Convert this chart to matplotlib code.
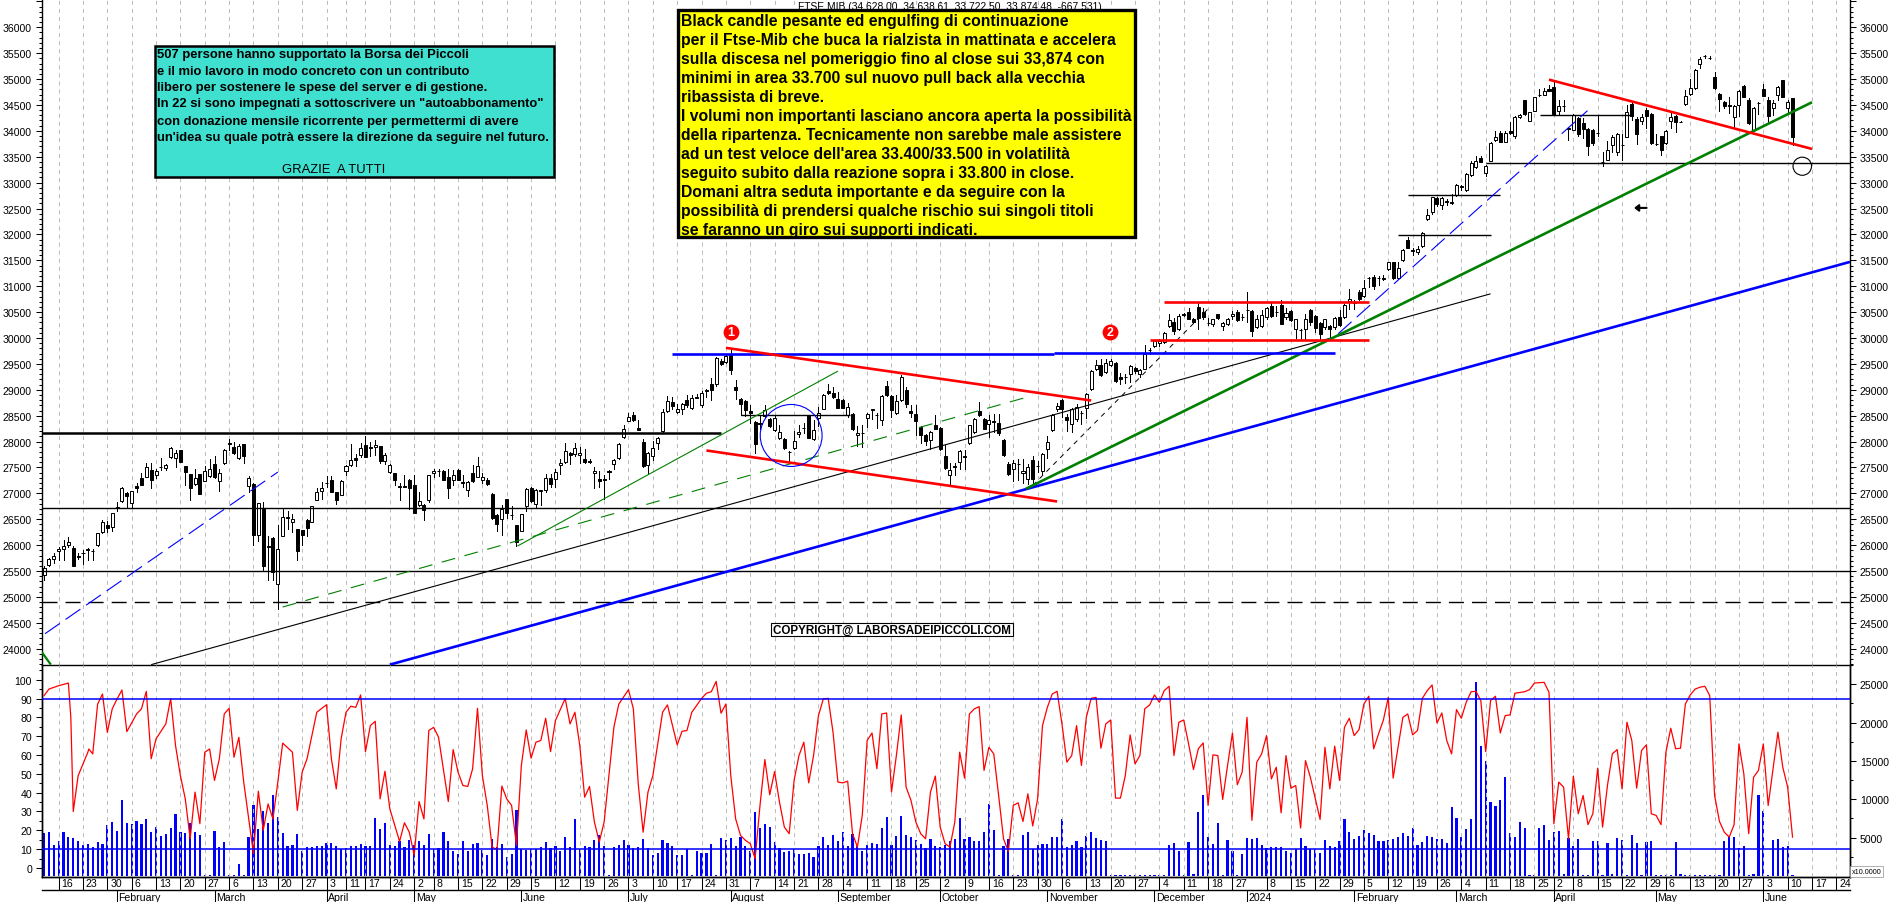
import matplotlib
matplotlib.use("Agg")
import matplotlib.pyplot as plt
from matplotlib import font_manager as fm
from matplotlib.patches import Ellipse, Rectangle
from matplotlib.ticker import FixedLocator, NullFormatter

plt.rcParams['lines.scale_dashes'] = False
names = {f.name for f in fm.fontManager.ttflist}
SANS = 'Liberation Sans'
NARROW = 'Liberation Sans Narrow' if 'Liberation Sans Narrow' in names else 'Liberation Sans'
plt.rcParams['font.family'] = [SANS, 'DejaVu Sans']

# ---------- OHLC data, one value per session ----------
opens = [25420,25620,25740,25880,25920,26000,25940,25800,25850,25920,
25890,26010,26260,26380,26360,26720,26860,27000,26810,27140,
27290,27320,27450,27350,27510,27490,27700,27690,27830,27520,
27370,27190,27370,27230,27340,27560,27240,27580,27970,27890,
27680,27950,27150,27190,26200,26700,25980,26130,25250,26180,
26540,26450,26310,26290,26480,26450,26880,27040,27200,27260,
27020,26970,27430,27540,27680,27750,27940,27890,27890,27910,
27630,27420,27390,27140,27150,27250,27170,26780,26770,26880,
27390,27440,27440,27310,27250,27460,27210,27070,27400,27320,
27260,27260,26990,26580,26500,26890,26590,26380,26280,26760,
27100,26790,
27040,27056,27294,27270,27540,27600,27770,27765,27732,27667,
27629,27390,27281,27275,27430,27558,27680,28086,28395,28511,
28260,27990,27539,27719,27964,28196,28582,28762,28569,28621,
28807,28647,28865,28711,28990,29110,29117,29555,29535,29664,
29052,28827,28775,28582,28376,28350,28492,28440,28215,28067,
28054,27800,27874,28138,28265,28505,28041,28453,28634,28975,
28943,28814,28807,28505,28537,28118,28170,28453,28621,28520,
28408,29072,28878,28544,28795,29001,28582,28531,28279,28118,
28028,28325,28266,27719,27359,27520,27603,27720,27964,28183,
28595,28440,28337,28395,28363,28028,27571,27474,
27570,27400,27281,27635,27530,27423,27861,28215,28621,28808,28473,28331,28440,28560,28646,29020,29406,29470,29342,29484,29516,29245,29250,29310,29419,29310,29406,29775,
29838,29900,29921,30230,30307,30166,30455,30500,30371,30596,30500,30290,30275,30461,30230,30262,30423,30500,30405,30545,30519,30210,30230,30403,30616,30500,30629,30403,30513,30166,30150,30166,30545,30416,30294,30211,30230,30211,30410,30397,30706,30690,30886,30809,31160,31175,31160,31150,31323,31464,31156,31497,31895,31690,31657,
31768,32302,32430,32707,32559,32640,32620,32771,32930,32861,
33138,33298,33472,33189,33427,33819,33954,33793,33993,33896,
34269,34597,34199,34391,34700,34700,34810,34841,34385,34480,
34050,34025,34243,34147,34038,34019,33960,33396,33446,33736,
33600,33730,33890,34520,34230,34186,34404,34327,33755,33896,
33768,34186,34282,34180,34526,34719,34822,35298,35450,35415,
35041,34713,34552,34490,34263,34507,34861,34604,34025,34535,
34809,34604,34449,34700,34977,34436,34628]

highs = [25600,25760,25840,25960,26100,26150,25980,25850,25900,25940,
25920,26230,26480,26470,26630,26830,27130,27020,27050,27200,
27400,27580,27590,27470,27680,27570,27900,27840,27840,27530,
27370,27470,27380,27520,27660,27720,27470,27860,28050,27990,
27960,27960,27340,27200,26820,26840,26180,26150,26390,26700,
26660,26600,26320,26300,26500,26760,27110,27220,27340,27340,
27030,27250,27550,27950,27760,27970,28100,28000,28030,27920,
27780,27570,27390,27200,27350,27280,27360,27020,26800,27360,
27480,27470,27460,27480,27460,27480,27350,27240,27540,27700,
27400,27290,27010,26600,26780,26900,26760,26390,26610,27110,
27120,27080,
27060,27380,27380,27470,27655,27977,27796,27977,27893,27848,
27655,27506,27440,27346,27450,27668,27964,28325,28556,28570,
28408,28054,27796,28003,28086,28621,28878,28859,28730,28750,
28904,28891,28923,28968,29020,29226,29625,29587,29677,29793,
29181,28840,28795,28711,28389,28518,28698,28453,28492,28312,
28067,27809,28196,28325,28363,28518,28408,28666,28923,29110,
29052,28956,28827,28750,28556,28299,28312,28556,28634,28556,
28891,29162,28891,28891,29278,29052,28698,28698,28299,28150,
28209,28505,28279,27925,27590,27590,27829,27829,28325,28453,
28762,28453,28518,28537,28537,28041,27603,27636,
27668,27668,27560,27720,27630,27770,28105,28530,28750,28820,28530,28640,28720,28600,28940,29390,29580,29590,29590,29600,29530,29330,29300,29480,29440,29400,29860,29800,
29953,29990,30110,30468,30384,30468,30480,30577,30384,30693,30577,30384,30371,30468,30307,30384,30513,30532,30468,30886,30532,30448,30532,30596,30680,30616,30725,30577,30532,30371,30178,30468,30551,30436,30307,30371,30243,30404,30532,30661,30950,30725,30918,31111,31175,31207,31194,31207,31477,31477,31464,31722,31947,31741,31786,
32040,32495,32730,32730,32720,32675,32780,32970,32958,33185,
33410,33510,33510,33340,33780,33990,33990,33990,34170,34290,
34330,34600,34370,34660,34800,34830,34880,34980,34600,34590,
34070,34320,34260,34250,34050,34030,34308,33600,33800,33920,
33950,33940,34500,34560,34270,34320,34450,34340,33940,33910,
34020,34380,34300,34190,34780,35000,35190,35420,35465,35440,
35140,34730,34570,34650,34500,34790,34880,34640,34460,34560,
34900,34660,34600,34860,34980,34600,34638]

lows = [25330,25600,25650,25720,25720,25960,25600,25730,25640,25720,
25720,25990,26230,26260,26280,26650,26840,26710,26710,27030,
27160,27310,27110,27290,27460,27460,27680,27500,27600,27160,
26880,27160,26990,27230,27310,27290,27050,27570,27840,27760,
27660,27590,27020,26000,26090,25510,25330,25330,24770,26180,
26320,26260,25720,26000,26170,26440,26880,26890,27130,27020,
26790,26960,27350,27520,27520,27710,27710,27730,27740,27590,
27570,27390,27160,26880,27120,26690,26630,26760,26490,26830,
27320,27340,27250,26920,27160,27250,27120,26940,27220,27310,
27200,27160,26510,26280,26190,26520,26510,25990,26280,26650,
26830,26710,
26770,27035,27120,27120,27380,27584,27570,27720,27590,27590,
27584,27107,27120,26895,27281,27462,27668,28067,28389,28395,
28215,27507,27397,27636,27848,28183,28569,28634,28556,28537,
28666,28634,28840,28666,28859,28795,29072,29471,29522,29303,
28827,28505,28492,28363,27783,28247,28473,28279,28209,28054,
27861,27590,27861,28086,28170,28067,28035,28299,28621,28923,
28846,28647,28647,28473,28215,27912,27893,28279,28440,28260,
28325,28878,28473,28531,28775,28666,28473,28131,27977,27925,
27861,28234,27829,27462,27152,27346,27462,27462,27951,28170,
28492,28234,28080,28183,28118,27719,27346,27230,
27249,27200,27180,27200,27420,27380,27680,28200,28590,28480,28200,28190,28400,28340,28450,29000,29390,29260,29320,29460,29150,29120,29130,29160,29320,29250,29400,29700,
29825,29850,29900,30210,30082,30146,30423,30358,30294,30178,30371,30243,30230,30371,30146,30243,30371,30333,30339,30307,30031,30191,30210,30371,30403,30423,30275,30371,30326,30000,29973,29986,30243,30114,29986,30178,29986,30178,30230,30384,30564,30552,30725,30789,30982,30950,31027,31111,31304,31143,31143,31484,31735,31606,31619,
31760,32270,32400,32540,32500,32570,32590,32750,32850,32840,
33120,33280,33400,33120,33410,33800,33780,33780,33940,33870,
34240,34310,34190,34380,34680,34690,34770,34320,34330,34390,
33830,34010,33900,33860,33540,33730,33900,33320,33430,33600,
33530,33430,33880,34200,33750,34140,34050,33750,33730,33530,
33750,34060,33980,34170,34490,34700,34800,35210,35400,35390,
34810,34390,34450,34350,34060,34280,34650,34130,34000,34330,
34670,34180,34300,34600,34650,34340,33722]

closes = [25550,25740,25790,25920,25990,26070,25600,25780,25840,25910,
25880,26230,26440,26340,26620,26730,27110,26950,27040,27110,
27160,27500,27260,27440,27500,27550,27870,27770,27610,27420,
27110,27290,26990,27440,27480,27320,27400,27830,27960,27770,
27920,27730,27290,26200,26810,25590,25970,25490,25920,26550,
26530,26500,25890,26200,26340,26750,27030,27110,27200,27030,
26880,27230,27520,27640,27650,27870,27710,27870,27940,27630,
27750,27550,27260,27120,27130,27100,26630,26850,26680,27350,
27430,27430,27260,27110,27350,27260,27200,27210,27240,27520,
27320,27190,26530,26410,26700,26620,26590,26070,26600,27080,
26860,27060,
27060,27294,27185,27420,27585,27816,27750,27874,27777,27603,
27597,27430,27230,27265,27415,27648,27951,28234,28466,28408,
28228,27526,27784,27874,28073,28569,28782,28679,28634,28724,
28711,28840,28840,28930,28980,28988,29612,29503,29651,29374,
28988,28717,28601,28556,27957,28340,28601,28292,28453,28183,
27880,27790,28003,28176,28260,28073,28222,28556,28904,28936,
28859,28653,28653,28666,28234,28163,28160,28530,28608,28515,
28878,28904,28601,28775,29252,28717,28556,28389,28118,28015,
28183,28247,27861,27494,27442,27515,27816,27710,28312,28440,
28505,28247,28415,28385,28157,27745,27365,27584,
27560,27440,27507,27281,27520,27751,27990,28505,28679,28634,28408,28621,28666,28555,28923,29361,29484,29278,29522,29548,29162,29213,29245,29451,29361,29387,29696,29770,
29934,29940,30095,30339,30127,30423,30450,30358,30307,30384,30404,30285,30371,30384,30288,30371,30468,30346,30400,30540,30127,30371,30448,30577,30423,30495,30275,30481,30339,30359,30145,30359,30307,30198,30082,30359,30178,30384,30243,30641,30744,30685,30744,30963,31155,31002,31155,31145,31464,31156,31349,31702,31741,31685,31722,
32032,32366,32720,32578,32707,32635,32615,32958,32925,33170,
33375,33427,33408,33318,33761,33890,33793,33954,33954,34276,
34308,34327,34359,34649,34695,34771,34777,34327,34488,34475,
34045,34308,33941,34038,33716,33761,33955,33390,33639,33890,
33935,33725,34359,34295,33941,34263,34295,33761,33750,33633,
34006,34263,34166,34175,34668,34822,35176,35382,35445,35410,
34835,34616,34488,34485,34488,34777,34662,34154,34449,34530,
34681,34295,34533,34841,34662,34552,33874]

volume = [5640,5770,4080,4600,5730,5080,4990,4510,3990,4210,3780,4430,4170,6640,7030,5900,9940,6940,6730,7200,
6770,7420,5730,6380,5210,5430,6250,8070,5730,5600,6900,5730,5380,100,100,5900,3780,4430,100,100,
1520,100,5120,9200,6160,8460,6860,10590,7730,5640,3950,4080,5470,3300,3780,3780,3910,3910,4300,4340,
3950,3470,3690,3950,3950,4210,3950,3910,7550,6120,6940,4080,3910,4560,3780,4640,4080,4560,4080,5510,
3470,3690,5770,4600,3260,2910,4600,3300,4210,4340,3340,2780,4860,3780,4210,2470,2910,8550,3560,3340,
3560,3560,3780,4430,3650,3910,3260,5120,3780,7420,3560,3910,3780,4730,5290,3950,100,3730,4080,4730,
4080,3650,3780,4860,3690,2780,3040,4730,4340,3910,2780,2780,3470,100,3300,3040,2990,4210,100,4990,
4730,4990,3950,5120,3950,3300,8380,6290,6730,6340,4430,3690,3120,3300,3560,2860,2910,3040,2520,3910,
5120,4080,5380,4600,5770,3950,5470,3950,3300,4080,4340,4210,6290,7730,4080,5250,7860,5380,5120,4730,
4210,3690,4860,3950,3820,4080,4600,4860,7600,4860,5120,4560,4600,5770,9330,6030,100,3950,4860,100,
100,5340,5730,3520,3990,4210,4210,5080,5120,7460,3820,4080,4600,3780,5250,5770,4990,4730,4560,110,
130,130,130,130,150,150,150,150,90,90,90,4080,4340,3260,100,4430,220,8330,10590,5120,
4210,6940,170,4730,3300,90,2910,4990,4860,4990,4080,3690,3780,3780,3780,3300,3040,3470,4990,3950,
3560,3470,2990,4690,3950,3780,4560,7420,5730,4820,5250,6030,5600,5380,4600,4600,4730,4860,5120,5600,
5160,6290,4080,4470,5160,5080,4820,4860,4340,9030,7550,5120,6160,7420,25300,16970,14970,9630,9110,9900,
12930,5600,5120,7070,6290,170,170,6290,6680,4730,5770,5900,260,4990,3950,4820,90,90,4560,4600,
170,4340,260,4990,4730,170,5380,4340,170,4430,4560,90,90,90,90,4430,300,170,170,170,
170,170,170,90,90,4600,5250,5120,3650,3910,90,300,10590,8460,170,4730,4860,3820,3950,90]

osc_idx = [0,1,3,5,5.5,6,7,9,9.2,10,11,12,13,14,15,16,17,19,20,21,22,23,25,26,27,28,29,30,31,32,33,34,35,36,37,38,39,40,41,43,44,45,46,47,48,49,51,52,53,54,56,58,59,60,61,62,63,64,65,66,67,68,69,70,71,73,74,75,76,77,78,79,80,81,83,84,85,86,87,88,89,90,91,92,93,94,95,96,97,98,99,100,101,102,103,104,105,107,108,109,110,111,112,113,114,115,117,118,120,121,122,
123,124,125,127,128,130,131,132,133,135,136,137,138,139,140,141,142,143,144,145,146,147,148,149,150,151,152,153,154,155,156,157,158,159,160,161,162,163,164,165,166,167,168,169,170,171,172,173,174,175,176,177,178,179,180,181,182,183,184,185,186,187,188,189,190,191,192,193,194,195,196,197,198,199,200,201,202,203,204,205,206,207,208,209,210,211,212,213,214,215,216,217,218,219,220,221,222,223,224,225,226,227,228,229,230,231,232,233,234,235,236,237,238,239,240,241,242,243,244,245,246,247,248,249,250,251,252,253,
254,255,256,257,258,259,260,262,263,264,265,266,267,268,269,270,271,272,273,274,275,276,277,278,279,280,281,282,283,284,285,286,287,288,289,290,291,292,293,294,295,296,297,298,299,300,301,302,304,305,306,308,309,310,311,312,313,314,315,316,317,318,319,320,321,322,323,324,325,326,327,328,329,330,331,332,333,334,335,336,337,338,339,340,341,342,343,344,345,346,347,348,349,350,351,352,353,354,355,356,357,358,359]
osc_val = [91.5,95,96.8,98.2,80,30,49,61.5,63.2,60.6,87,92.4,72,84.5,89.8,94.5,72.4,81.8,84.5,93.8,58,68.6,76.5,90,65,49,36.7,15.5,40.3,23.5,61.5,63.2,46.5,58,81.8,84.8,58.8,69.4,45.6,7.6,40.8,20,34,26,45.6,66.3,61.5,30.6,50.9,58,82.7,86.7,58,42,68.6,82.7,85.9,85.3,91.9,61.8,75.6,77.9,36.7,51.4,31.4,14.1,24,19,6.7,35.3,26,73,74.7,69.4,35.3,62.9,50.9,43.8,43.3,52.7,84.8,49,33.2,11.1,9.7,43.5,36.7,33.2,12,54.4,73.3,58.3,66.8,67.7,79.5,61.8,78.3,90,76.5,82.7,65,37.6,43.3,24.4,13.8,24.4,74.7,87,94.7,84.5,44.7,
19,40.3,49,82.7,86.6,65.4,72.6,73,82.7,90,92.8,93.6,99.1,82.2,87.1,49,26.1,17.3,14.7,12.9,4.9,33.2,57.6,38.9,51.2,35,21.7,18.2,46.5,59.7,66.8,45.2,59.7,80.9,89.8,90.1,72,45.6,45.2,46.1,18.2,11.1,27.9,67.7,71.7,52.7,81.8,82.3,40.3,59.7,81.3,42.9,35.9,24.4,18.2,15.5,40.3,48.8,21.7,12.9,11.1,24.4,61.5,47.7,81.8,84.5,85.7,51.8,64.1,60.6,38.5,15.5,8.8,33.2,34.6,24.7,39.4,22.3,36.7,75.6,85.3,92.4,93.8,76.5,56.2,59.7,75.6,54.4,80,90.1,90.6,63.6,76.5,78.6,37.1,37.1,49,70.7,55.3,59.7,84.5,86.6,91.9,88,94.2,96.5,59.7,77.4,78.6,65.9,52.3,63.3,66.4,33.2,60.1,59.7,36.4,54.4,71.7,44.2,50.9,80,25.3,56.2,60.6,70.3,47.3,53.5,
29.3,59.7,42.4,43.8,21.2,57,48.2,25.8,64.1,42,64.7,46.5,74.7,79.5,70.3,73.5,87.1,91.2,63.3,71.2,78.6,90.6,47.7,64.1,80,81.8,70.7,73,90.1,94.2,97.2,77,82.3,67.7,60.6,84.1,79.5,88,93.6,93.8,88.9,61.8,88.9,91.2,71.7,80.9,81.3,92.8,93.6,94.7,98.2,98.6,93.3,23.5,45.6,42.9,15.5,48.8,28.8,38.5,23,28.8,53,21.7,43.8,60.6,62.9,42,77.4,67.7,42.4,62.4,65.4,28.8,27.9,23,61.5,74.2,63.3,63.6,87.1,91.9,95,96,96.5,91.5,38.5,24.7,19,16.4,23,65.9,50,18.2,48.2,51.8,65.9,33.2,52.7,72.1,53.5,42.9,16.4]

week_idx = [3,8,13,18,23,28,33,38,43,48,53,58,62,66,71,76,80,85,90,95,100,105,110,115,120,
125,130,135,140,145,150,154,159,164,169,174,179,184,189,194,199,204,209,214,219,224,229,234,239,244,251,
256,261,266,271,276,281,286,291,296,301,306,310,314,319,324,329,333,338,343,348,353,358,363,368]
week_labels = ['16','23','30','6','13','20','27','6','13','20','27','3','11','17','24','2','8','15','22','29','5','12','19','26','3',
'10','17','24','31','7','14','21','28','4','11','18','25','2','9','16','23','30','6','13','20','27','4','11','18','27','8',
'15','22','29','5','12','19','26','4','11','18','25','2','8','15','22','29','6','13','20','27','3','10','17','24']
month_idx = [15,35,58,76,98,120,141,163,184,206,228,247,269,290,310,331,353]
month_labels = ['February','March','April','May','June','July','August','September','October','November','December','2024','February','March','April','May','June']

yellow_lines = ["Black candle pesante ed engulfing di continuazione",
"per il Ftse-Mib che buca la rialzista in mattinata e accelera",
"sulla discesa nel pomeriggio fino al close sui 33,874 con",
"minimi in area 33.700 sul nuovo pull back alla vecchia",
"ribassista di breve.",
"I volumi non importanti lasciano ancora aperta la possibilità",
"della ripartenza. Tecnicamente non sarebbe male assistere",
"ad un test veloce dell'area 33.400/33.500 in volatilità",
"seguito subito dalla reazione sopra i 33.800 in close.",
"Domani altra seduta importante e da seguire con la",
"possibilità di prendersi qualche rischio sui singoli titoli",
"se faranno un giro sui supporti indicati."]
cyan_lines = ["507 persone hanno supportato la Borsa dei Piccoli",
"e il mio lavoro in modo concreto con un contributo",
"libero per sostenere le spese del server e di gestione.",
"In 22 si sono impegnati a sottoscrivere un \"autoabbonamento\"",
"con donazione mensile ricorrente per permettermi di avere",
"un'idea su quale potrà essere la direzione da seguire nel futuro."]
thanks = "GRAZIE  A TUTTI"
copyright_text = "COPYRIGHT@ LABORSADEIPICCOLI.COM"
title_text = "FTSE MIB (34,628.00, 34,638.61, 33,722.50, 33,874.48, -667,531)"

# drawn trend lines: [start, end] in session index and price
black_h1 = [26710, 26710]; black_h2 = [25510, 25510]; dash_h = [24910, 24910]
support_x = [296, 370.8]; support_y = [33376, 33376]
heavy_x = [-0.5, 139]; heavy_y = [28170, 28170]
neck_x = [143.2, 165.5]; neck_y = [28505, 28505]
blue_a_x = [129, 207.4]; blue_a_y = [29694, 29694]
blue_b_x = [207.4, 265]; blue_b_y = [29707, 29707]
wedge_top_x = [140, 215]; wedge_top_y = [29810, 28793]
wedge_low_x = [136, 208]; wedge_low_y = [27828, 26844]
chan_up_x = [230, 272]; chan_up_y = [30704, 30704]
chan_lo_x = [227, 272]; chan_lo_y = [29952, 29952]
down_x = [309, 363]; down_y = [34989, 33651]
green_x = [201.6, 363]; green_y = [27089, 34552]
blue_up_x = [71, 370.8]; blue_up_y = [23693, 31470]
black_t_x = [22, 297]; black_t_y = [23693, 30853]
green_thin_x = [97.2, 163]; green_thin_y = [25983, 29361]
green_dash_x = [49, 203]; green_dash_y = [24806, 28890]
blue_d1_x = [0.2, 48]; blue_d1_y = [24290, 27411]
blue_d2_x = [265.7, 316.9]; blue_d2_y = [30081, 34390]
black_d_x = [203, 239]; black_d_y = [27153, 30563]
h34300_x = [307.2, 326]; h34300_y = [34302, 34302]
h32750_x = [280, 299]; h32750_y = [32763, 32763]
h32000_x = [278, 297]; h32000_y = [31991, 31991]
stub_x = [-0.5, 1.4]; stub_y = [23940, 23693]

n = len(opens)
assert n == len(highs) == len(lows) == len(closes) == len(volume) == 360, (len(opens), len(highs), len(lows), len(closes), len(volume))
assert len(osc_idx) == len(osc_val), (len(osc_idx), len(osc_val))
assert len(week_idx) == len(week_labels)
idx = list(range(n))

W, H = 1890, 903
fig = plt.figure(figsize=(W/100, H/100), dpi=100, facecolor='white')
def axrect(x0, y0, x1, y1):
    return [x0/W, 1-y1/H, (x1-x0)/W, (y1-y0)/H]

X0, X1 = 41.6, 1850
XLIM = (-0.5, 370.8)
ax = fig.add_axes(axrect(X0, 0, X1, 666))
low = fig.add_axes(axrect(X0, 666, X1, 878))
dates = fig.add_axes(axrect(X0, 878, X1, 903))

GRID = dict(color='#bcbcbc', lw=0.72, ls=(0, (2.9, 2.9)), zorder=0)
for a in (ax, low):
    a.set_xlim(*XLIM)
    for w in week_idx:
        a.axvline(w, **GRID)
    a.set_xticks([])

# main pane
ax.set_ylim(23686, 36546)
for i in idx:
    ax.plot([i, i], [lows[i], highs[i]], color='black', lw=0.72, zorder=2, antialiased=False, solid_capstyle='butt')
up = [i for i in idx if closes[i] >= opens[i]]
dn = [i for i in idx if closes[i] < opens[i]]
ax.bar(up, [closes[i]-opens[i] for i in up], bottom=[opens[i] for i in up], width=0.62,
       facecolor='white', edgecolor='black', lw=0.72, zorder=2.1)
ax.bar(dn, [opens[i]-closes[i] for i in dn], bottom=[closes[i] for i in dn], width=0.62,
       facecolor='black', edgecolor='black', lw=0.72, zorder=2.1)

for yy in (black_h1, black_h2):
    ax.plot(XLIM, yy, color='black', lw=1.0, zorder=3)
ax.plot(XLIM, dash_h, color='black', lw=1.0, ls=(0, (10.8, 5.8)), zorder=3)
def seg(x, y, c, lw, ls='-'):
    ax.plot(x, y, color=c, lw=lw, ls=ls, zorder=3, solid_capstyle='butt')
seg(support_x, support_y, 'black', 1.0)
seg(heavy_x, heavy_y, 'black', 1.8)
seg(neck_x, neck_y, 'black', 1.0)
seg(h34300_x, h34300_y, 'black', 1.0)
seg(h32750_x, h32750_y, 'black', 1.0)
seg(h32000_x, h32000_y, 'black', 1.0)
seg(black_t_x, black_t_y, 'black', 0.8)
seg(black_d_x, black_d_y, 'black', 0.7, (0, (3.5, 3.5)))
seg(green_thin_x, green_thin_y, '#008000', 0.8)
seg(green_dash_x, green_dash_y, '#008000', 0.8, (0, (10, 7)))
seg(blue_d1_x, blue_d1_y, '#0000ff', 0.8, (0, (13, 5)))
seg(blue_d2_x, blue_d2_y, '#0000ff', 0.8, (0, (13, 5)))
seg(blue_up_x, blue_up_y, '#0000ff', 1.9)
seg(green_x, green_y, '#008000', 1.9)
seg(stub_x, stub_y, '#008000', 1.6)
seg(blue_a_x, blue_a_y, '#0000ff', 1.9)
seg(blue_b_x, blue_b_y, '#0000ff', 1.9)
seg(wedge_top_x, wedge_top_y, '#ff0000', 1.9)
seg(wedge_low_x, wedge_low_y, '#ff0000', 1.9)
seg(chan_up_x, chan_up_y, '#ff0000', 1.9)
seg(chan_lo_x, chan_lo_y, '#ff0000', 1.9)
seg(down_x, down_y, '#ff0000', 1.9)

ax.add_patch(Ellipse((153.4, 28118), 12.7, 1197, fill=False, edgecolor='#0000ff', lw=0.8, zorder=3))
ax.add_patch(Ellipse((361, 33317), 3.8, 350, fill=False, edgecolor='black', lw=0.8, zorder=3))
for xi, pv, t in ((141, 30119, '1'), (218.9, 30110, '2')):
    ax.scatter([xi], [pv], s=130, color='#ff0000', zorder=4, linewidths=0)
    ax.text(xi, pv, t, color='white', fontsize=9, fontweight='bold', ha='center', va='center', zorder=5)
ax.annotate('', xy=(325.9, 32512), xytext=(329.6, 32512),
            arrowprops=dict(arrowstyle='-|>,head_length=0.25,head_width=0.2', color='black', lw=1.5), zorder=4)

ax.spines['top'].set_visible(False)
for s in ('left', 'right', 'bottom'):
    ax.spines[s].set_linewidth(1.0)

main_major = list(range(24000, 36501, 500))
main_labels = [str(v) if v <= 36000 else '' for v in main_major]
main_minor = [v for v in range(23700, 36546, 100) if v % 500]
ax.yaxis.set_major_locator(FixedLocator(main_major))
ax.set_yticklabels(main_labels)
ax.yaxis.set_minor_locator(FixedLocator(main_minor))
ax.yaxis.set_minor_formatter(NullFormatter())
ax.tick_params(axis='y', which='major', left=True, right=True, labelleft=True, labelright=True,
               length=4.2, width=0.75, labelsize=7.6, pad=2.8)
ax.tick_params(axis='y', which='minor', left=True, right=True, length=2.2, width=0.75)

# lower pane
L_MIN, L_MAX = -4.8, 107.8
low.set_ylim(L_MIN, L_MAX)
low.patch.set_visible(False)
vol = low.twinx()
vol.set_ylim(-130, 27515)
vol.set_zorder(low.get_zorder()-1)
vol.set_xlim(*XLIM)
vol.bar(idx, volume, width=0.45, color='#0000ff', linewidth=0, zorder=2)
vol.set_xticks([])
low.plot(osc_idx, osc_val, color='#ff0000', lw=0.9, zorder=3)
for lv in (90, 10):
    low.axhline(lv, color='#0000ff', lw=1.1, zorder=3)

low.yaxis.set_major_locator(FixedLocator(list(range(0, 101, 10))))
low.yaxis.set_minor_locator(FixedLocator(list(range(0, 106, 5))[1::2]))
low.yaxis.set_minor_formatter(NullFormatter())
low.tick_params(axis='y', which='major', length=4.2, width=0.75, labelsize=7.6, pad=2.8)
low.tick_params(axis='y', which='minor', length=2.2, width=0.75)
vol.yaxis.set_major_locator(FixedLocator([5000, 10000, 15000, 20000, 25000]))
vol.yaxis.set_minor_locator(FixedLocator([2500, 7500, 12500, 17500, 22500, 27500]))
vol.yaxis.set_minor_formatter(NullFormatter())
vol.tick_params(axis='y', which='major', length=4.2, width=0.75, labelsize=7.6, pad=2.8)
vol.tick_params(axis='y', which='minor', length=2.2, width=0.75)
for a in (low, vol):
    a.spines['top'].set_visible(False)
    for s in ('left', 'right', 'bottom'):
        a.spines[s].set_linewidth(1.0)

# date rows
dates.set_xlim(*XLIM)
dates.set_ylim(25, 0)
dates.axis('off')
dates.plot(XLIM, [13, 13], color='black', lw=1.0, clip_on=False)
for w, t in zip(week_idx, week_labels):
    dates.plot([w, w], [0, 13], color='black', lw=0.75)
    dates.text(w+0.6, 6.5, t, fontsize=7.6, ha='left', va='center')
for m, t in zip(month_idx, month_labels):
    dates.plot([m, m], [13, 25], color='black', lw=0.75)
    dates.text(m+0.3, 19.7, t, fontsize=7.6, ha='left', va='center')

# page furniture, positioned in figure pixels
def fx(x): return x/W
def fy(y): return 1-y/H
def box(x0, y0, x1, y1, fc, lw, z=1):
    fig.add_artist(Rectangle((fx(x0), fy(y1)), (x1-x0)/W, (y1-y0)/H, transform=fig.transFigure,
                             facecolor=fc, edgecolor='black', lw=lw, zorder=z))

fig.text(fx(798), fy(7.5), title_text, fontsize=7.4, va='center', ha='left', zorder=0.5)

box(677.6, 11, 1135.5, 238.3, '#ffff00', 2.4)
for k, t in enumerate(yellow_lines):
    fig.text(fx(681.5), fy(21.5+k*19), t, fontsize=11.35, fontweight='bold', va='center', ha='left', color='black', zorder=2)

box(155, 47, 554.3, 178, '#40e0d0', 1.8)
cy = [55, 71.7, 88.3, 104.3, 121.7, 137.7]
for y, t in zip(cy, cyan_lines):
    fig.text(fx(157), fy(y), t, fontsize=9.4, fontweight='bold', family=NARROW, va='center', ha='left', zorder=2)
fig.text(fx(281.6), fy(170), thanks, fontsize=9.4, family=NARROW, va='center', ha='left', zorder=2)

box(771.4, 623.7, 1012.7, 637.3, 'white', 0.8)
fig.text(fx(773.5), fy(631), copyright_text, fontsize=8.35, fontweight='bold', va='center', ha='left', zorder=2)

fig.text(fx(1866.5), fy(872.5), 'x10.0000', fontsize=5.2, va='center', ha='center', zorder=2,
         bbox=dict(boxstyle='square,pad=0.25', fc='white', ec='#909090', lw=0.5))

fig.savefig('out.png', dpi=100, facecolor='white')
